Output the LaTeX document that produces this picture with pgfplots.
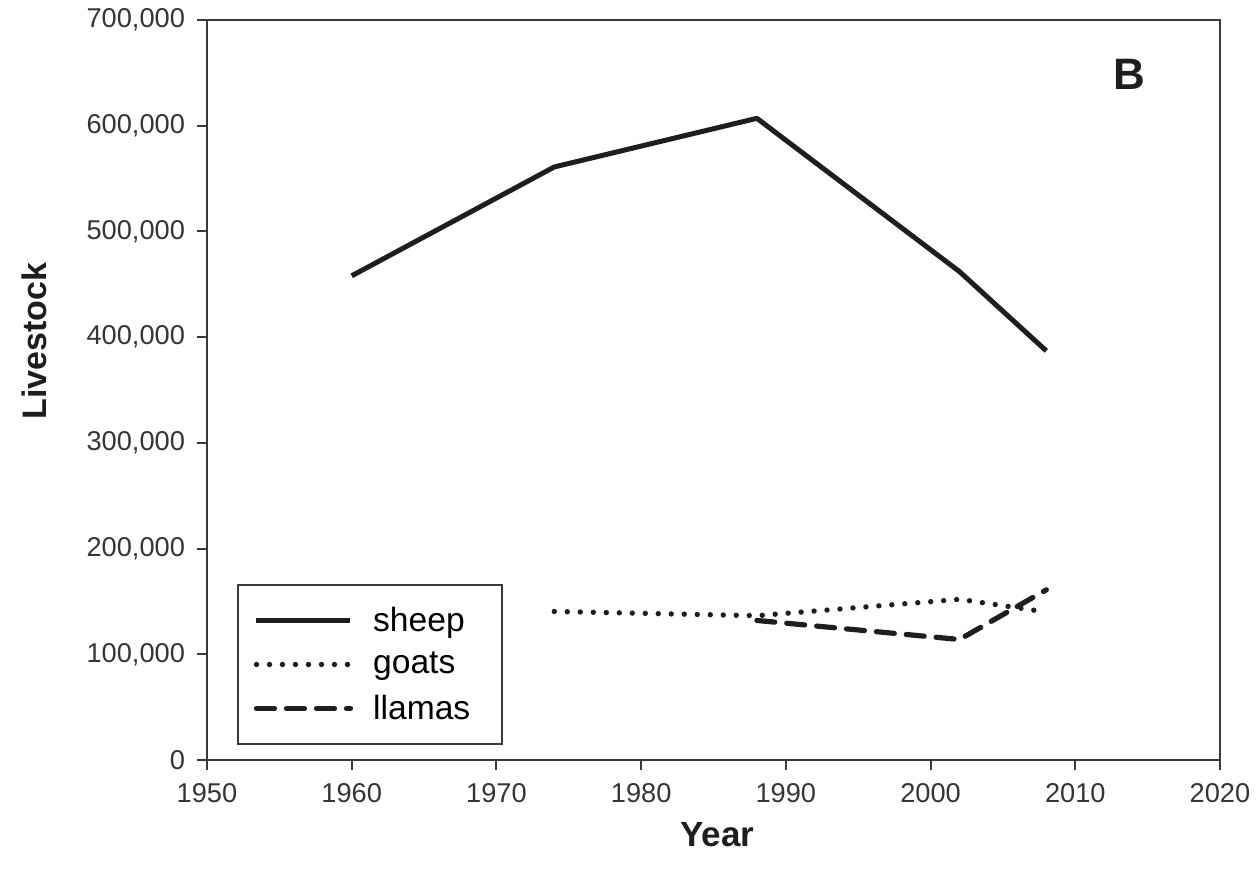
\documentclass[border=0pt]{standalone}
\usepackage{pgfplots}
\pgfplotsset{compat=1.18}
\usepackage{fontspec}
\setmainfont{Liberation Sans}
\definecolor{ink}{HTML}{1E1E1E}
\definecolor{axisgray}{HTML}{3A3A3A}
\begin{document}
\begin{tikzpicture}
\useasboundingbox (-103.5pt,-59.5pt) rectangle (526.5pt,380pt);
\begin{axis}[
  at={(0,0)}, anchor=south west,
  width=506.5pt, height=370pt, scale only axis,
  xmin=1950, xmax=2020, ymin=0, ymax=700000,
  xtick={1950,1960,...,2020},
  ytick={0,100000,...,700000},
  scaled y ticks=false,
  axis line style={axisgray, line width=1pt},
  tick style={axisgray, line width=1pt},
  tick align=outside, xtick pos=bottom, ytick pos=left,
  major tick length=5pt,
  /pgf/number format/assume math mode=true,
  yticklabel style={/pgf/number format/.cd, 1000 sep={,}, fixed, /tikz/.cd, xshift=-2.5pt},
  xticklabel style={/pgf/number format/1000 sep=, yshift=-3pt},
  ticklabel style={font=\fontsize{13.6}{16}\selectfont, text=ink!90},
  xlabel={Year}, ylabel={Livestock},
  xlabel style={font=\fontsize{17.5}{20}\selectfont\bfseries, text=ink, at={(axis description cs:0.504,-0.101)}, anchor=center},
  ylabel style={font=\fontsize{17}{20}\selectfont\bfseries, text=ink, at={(axis description cs:-0.170,0.566)}, anchor=center, rotate=0},
  legend style={at={(axis description cs:0.0296,0.0203)}, anchor=south west,
    draw=axisgray, line width=0.8pt, font=\fontsize{16.8}{20}\selectfont,
    inner xsep=8pt, inner ysep=9pt, row sep=5pt, column sep=8pt, cells={anchor=west}},
  legend image code/.code={\draw[#1] (0pt,0pt) -- (47pt,0pt);},
  clip=false,
]
\addplot[ink, line width=2.5pt, line join=round] coordinates {
  (1960,458000) (1974,561000) (1988,607000) (2002,462000) (2008,387000)};
\addlegendentry{sheep}
\addplot[ink, line width=2.7pt, line cap=round, dash pattern=on 0pt off 6.5pt] coordinates {
  (1974,140500) (1988,136500) (2002,152000) (2008,140000)};
\addlegendentry{goats}
\addplot[ink, line width=2.6pt, line cap=round, dash pattern=on 9pt off 6pt] coordinates {
  (1988,132000) (2002,114000) (2008,161000)};
\addlegendentry{llamas\hspace*{6pt}}
\node[font=\fontsize{22}{24}\selectfont\bfseries, text=ink] at (axis description cs:0.911,0.926) {B};
\end{axis}
\end{tikzpicture}
\end{document}
